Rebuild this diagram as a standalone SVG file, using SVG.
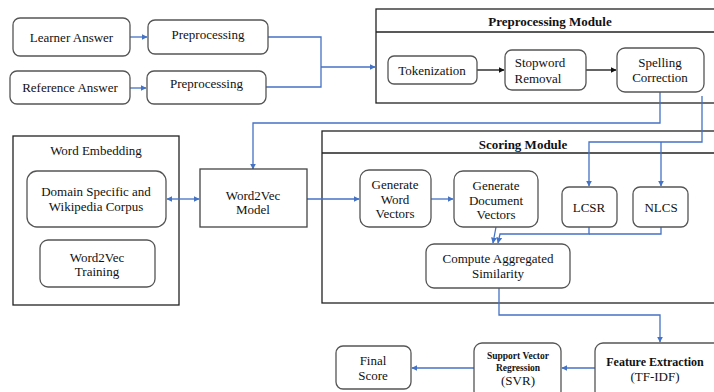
<svg xmlns="http://www.w3.org/2000/svg" width="714" height="392" viewBox="0 0 714 392">
  <defs>
    <marker id="arrBlue" viewBox="0 0 10 10" refX="9" refY="5" markerWidth="6" markerHeight="6" markerUnits="userSpaceOnUse" orient="auto-start-reverse">
      <path d="M0,0 L10,5 L0,10 z" fill="#4472C4"/>
    </marker>
    <marker id="arrBlack" viewBox="0 0 10 10" refX="9" refY="5" markerWidth="6" markerHeight="6" markerUnits="userSpaceOnUse" orient="auto">
      <path d="M0,0 L10,5 L0,10 z" fill="#111"/>
    </marker>
  </defs>
  <style>
    text { font-family: "Liberation Serif", "Times New Roman", serif; font-size: 13px; fill: #111; text-anchor: middle; }
    .bold { font-weight: bold; }
    .small { font-size: 9.5px; font-weight: bold; }
    .box { fill: #fff; stroke: #555; stroke-width: 1.3; }
    .sq { fill: #fff; stroke: #444; stroke-width: 1.3; }
    .module { fill: #fff; stroke: #222; stroke-width: 1.3; }
    .link { fill: none; stroke: #4472C4; stroke-width: 1.3; }
    .blk { fill: none; stroke: #111; stroke-width: 1.3; }
  </style>
  <rect width="714" height="392" fill="#fff"/>

  <!-- module frames -->
  <g id="preprocessing-module">
    <rect class="module" x="376" y="9" width="344" height="94"/>
    <line x1="376" y1="32" x2="720" y2="32" stroke="#222" stroke-width="1.3"/>
    <text class="bold" x="550" y="25.5">Preprocessing Module</text>
  </g>
  <g id="scoring-module">
    <rect class="module" x="322" y="131" width="398" height="172"/>
    <line x1="322" y1="153" x2="720" y2="153" stroke="#222" stroke-width="1.3"/>
    <text class="bold" x="523" y="148.5">Scoring Module</text>
  </g>
  <g id="word-embedding">
    <rect class="module" x="13" y="136" width="166" height="169"/>
    <text x="96" y="154.5">Word Embedding</text>
  </g>

  <!-- connectors -->
  <g id="connectors">
    <path class="link" d="M130,37 H147" marker-end="url(#arrBlue)"/>
    <path class="link" d="M130,88 H146" marker-end="url(#arrBlue)"/>
    <path class="link" d="M268,37 H321 V87 H266"/>
    <path class="link" d="M321,67 H375" marker-end="url(#arrBlue)"/>
    <path class="blk" d="M477,70 H504" marker-end="url(#arrBlack)"/>
    <path class="blk" d="M586,70 H616" marker-end="url(#arrBlack)"/>
    <path class="link" d="M660,92 V123 H253 V169" marker-end="url(#arrBlue)"/>
    <path class="link" d="M702,96 V142 H589 V186" marker-end="url(#arrBlue)"/>
    <path class="link" d="M661,142 V186" marker-end="url(#arrBlue)"/>
    <path class="link" d="M167,199 H199" marker-start="url(#arrBlue)" marker-end="url(#arrBlue)"/>
    <path class="link" d="M307,199 H359" marker-end="url(#arrBlue)"/>
    <path class="link" d="M431,199 H453" marker-end="url(#arrBlue)"/>
    <path class="link" d="M496,227 L493,243" marker-end="url(#arrBlue)"/>
    <path class="link" d="M589,227 V234 H500 L498,243" marker-end="url(#arrBlue)"/>
    <path class="link" d="M661,227 V234 H589"/>
    <path class="link" d="M499,288 V315 H660 V342" marker-end="url(#arrBlue)"/>
    <path class="link" d="M595,368 H562" marker-end="url(#arrBlue)"/>
    <path class="link" d="M474,368 H412" marker-end="url(#arrBlue)"/>
  </g>

  <!-- input nodes -->
  <g id="learner-answer">
    <rect class="box" x="13" y="18" width="117" height="38" rx="7"/>
    <text x="71.5" y="42">Learner Answer</text>
  </g>
  <g id="preprocessing-1">
    <rect class="box" x="148" y="20" width="120" height="34" rx="7"/>
    <text x="208" y="38.5">Preprocessing</text>
  </g>
  <g id="reference-answer">
    <rect class="box" x="10" y="71" width="120" height="33" rx="7"/>
    <text x="70" y="92">Reference Answer</text>
  </g>
  <g id="preprocessing-2">
    <rect class="box" x="147" y="71" width="119" height="33" rx="7"/>
    <text x="206.5" y="87.5">Preprocessing</text>
  </g>

  <!-- preprocessing steps -->
  <g id="tokenization">
    <rect class="box" x="388" y="56" width="89" height="28" rx="6"/>
    <text x="432" y="74.5">Tokenization</text>
  </g>
  <g id="stopword-removal">
    <rect class="box" x="505" y="50" width="81" height="40" rx="7"/>
    <text x="540" y="66.5">Stopword</text>
    <text x="538" y="82.5">Removal</text>
  </g>
  <g id="spelling-correction">
    <rect class="box" x="617" y="48" width="87" height="44" rx="8"/>
    <text x="660" y="67">Spelling</text>
    <text x="660" y="82">Correction</text>
  </g>

  <!-- embedding nodes -->
  <g id="corpus">
    <rect class="box" x="27" y="171" width="139" height="56" rx="10"/>
    <text x="96" y="195.5">Domain Specific and</text>
    <text x="96" y="210.5">Wikipedia Corpus</text>
  </g>
  <g id="word2vec-training">
    <rect class="box" x="40" y="240" width="115" height="47" rx="8"/>
    <text x="97" y="261.5">Word2Vec</text>
    <text x="97" y="275.5">Training</text>
  </g>
  <g id="word2vec-model">
    <rect class="sq" x="200" y="169" width="107" height="58"/>
    <text x="253" y="199.5">Word2Vec</text>
    <text x="253" y="213.5">Model</text>
  </g>

  <!-- scoring nodes -->
  <g id="word-vectors">
    <rect class="box" x="360" y="170" width="71" height="57" rx="9"/>
    <text x="395" y="188.5">Generate</text>
    <text x="395" y="203.5">Word</text>
    <text x="395" y="217.5">Vectors</text>
  </g>
  <g id="document-vectors">
    <rect class="box" x="454" y="171" width="84" height="56" rx="9"/>
    <text x="496" y="189.5">Generate</text>
    <text x="496" y="204.5">Document</text>
    <text x="496" y="218.5">Vectors</text>
  </g>
  <g id="lcsr">
    <rect class="box" x="562" y="187" width="55" height="40" rx="7"/>
    <text x="589" y="211.5">LCSR</text>
  </g>
  <g id="nlcs">
    <rect class="box" x="633" y="187" width="55" height="40" rx="7"/>
    <text x="661" y="211.5">NLCS</text>
  </g>
  <g id="aggregated-similarity">
    <rect class="box" x="426" y="244" width="144" height="44" rx="8"/>
    <text x="498" y="262.5">Compute Aggregated</text>
    <text x="498" y="278">Similarity</text>
  </g>

  <!-- output nodes -->
  <g id="feature-extraction">
    <rect class="box" x="595" y="343" width="130" height="56" rx="8"/>
    <text class="bold" x="655" y="365.5" style="font-size:12px">Feature Extraction</text>
    <text x="655" y="380.5">(TF-IDF)</text>
  </g>
  <g id="svr">
    <rect class="box" x="474" y="343" width="87" height="56" rx="8"/>
    <text class="small" x="518" y="358.5">Support Vector</text>
    <text class="small" x="518" y="370.5">Regression</text>
    <text x="518" y="384.5">(SVR)</text>
  </g>
  <g id="final-score">
    <rect class="box" x="336" y="346" width="75" height="43" rx="7"/>
    <text x="373" y="364.5">Final</text>
    <text x="373" y="379.5">Score</text>
  </g>
</svg>
